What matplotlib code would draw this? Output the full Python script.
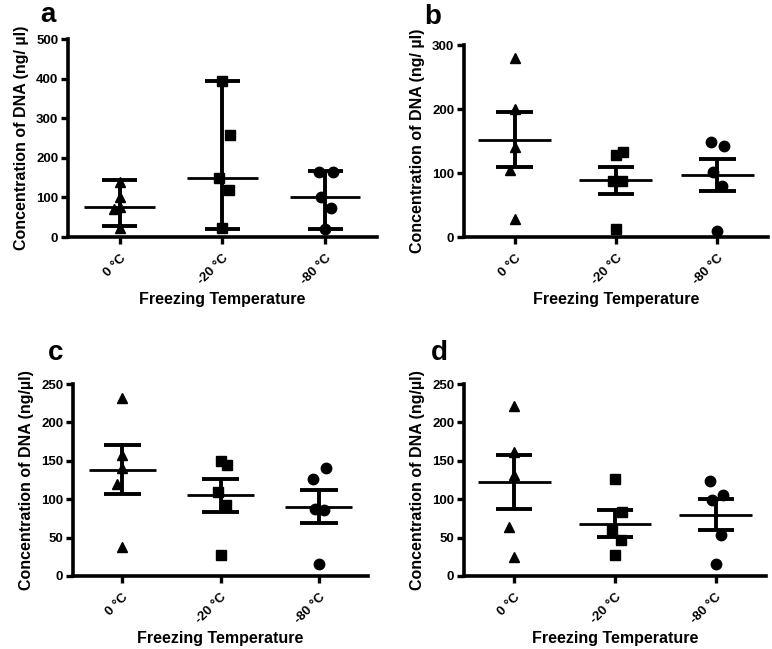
import matplotlib
matplotlib.use('Agg')
import matplotlib.pyplot as plt

plt.rcParams['font.family'] = ['Liberation Sans', 'DejaVu Sans']
plt.rcParams['font.weight'] = 'bold'

categories = ['0 \u00b0C', '-20 \u00b0C', '-80 \u00b0C']
markers = ['^', 's', 'o']

# panel a: individual values, median line and range (min/max)
a_points = [[140, 102, 75, 70, 24],
            [395, 258, 149, 119, 22],
            [165, 164, 101, 73, 20]]
a_center = [77, 149, 102]
a_low = [27, 21, 21]
a_high = [145, 395, 167]

# panel b: values, mean and SEM limits
b_points = [[280, 200, 140, 105, 28],
            [128, 133, 87, 87, 12],
            [148, 143, 102, 80, 10]]
b_center = [152, 89, 97]
b_low = [109, 68, 72]
b_high = [195, 110, 122]

# panel c
c_points = [[232, 158, 141, 120, 38],
            [150, 144, 110, 92, 27],
            [126, 140, 87, 86, 16]]
c_center = [138, 105, 90]
c_low = [107, 83, 69]
c_high = [170, 126, 112]

# panel d
d_points = [[222, 162, 132, 64, 25],
            [126, 83, 60, 47, 27],
            [124, 106, 99, 53, 15]]
d_center = [122, 68, 80]
d_low = [87, 51, 60]
d_high = [157, 86, 100]

# small horizontal spread of the dots, as drawn in the original
jitter = [[0, 0, 0, -0.05, 0],
          [0, 0.07, -0.03, 0.06, 0],
          [-0.06, 0.07, -0.04, 0.05, 0]]

ylabel_a = 'Concentration of DNA (ng/ \u00b5l)'
ylabel_c = 'Concentration of DNA (ng/\u00b5l)'

# letter, axes rect, data, y max, y step, y label, mean half width,
# cap half width, letter position (axes coords)
panels = [
    ('a', [0.0881, 0.6348, 0.4002, 0.3051], a_points, a_center, a_low, a_high,
     500, 100, ylabel_a, 0.34, 0.17, (-0.09, 1.085)),
    ('b', [0.601, 0.6348, 0.3938, 0.2958], b_points, b_center, b_low, b_high,
     300, 100, ylabel_a, 0.36, 0.18, (-0.13, 1.11)),
    ('c', [0.0946, 0.1125, 0.3821, 0.2958], c_points, c_center, c_low, c_high,
     250, 50, ylabel_c, 0.34, 0.19, (-0.085, 1.125)),
    ('d', [0.601, 0.1125, 0.3912, 0.2958], d_points, d_center, d_low, d_high,
     250, 50, ylabel_c, 0.36, 0.18, (-0.11, 1.125)),
]

fig = plt.figure(figsize=(7.72, 6.49), dpi=100)

for (letter, rect, pts, center, low, high, ymax, step, ylabel,
     mw, cw, lpos) in panels:
    ax = fig.add_axes(rect)
    for i in range(3):
        xs = [i + j for j in jitter[i]]
        ax.plot(xs, pts[i], linestyle='none', marker=markers[i], color='black',
                markersize=7.5, clip_on=False, zorder=3)
        ax.plot([i, i], [low[i], high[i]], color='black', lw=2.8,
                solid_capstyle='butt', zorder=2)
        ax.plot([i - cw, i + cw], [low[i], low[i]], color='black', lw=2.8,
                solid_capstyle='butt', zorder=2)
        ax.plot([i - cw, i + cw], [high[i], high[i]], color='black', lw=2.8,
                solid_capstyle='butt', zorder=2)
        ax.plot([i - mw, i + mw], [center[i], center[i]], color='black',
                lw=2.0, solid_capstyle='butt', zorder=2)

    ax.set_xlim(-0.5, 2.5)
    ax.set_ylim(0, ymax)
    ax.set_yticks(range(0, ymax + 1, step))
    ax.set_xticks(range(3))
    ax.set_xticklabels(categories, rotation=45, ha='right',
                       rotation_mode='anchor')
    for side in ['top', 'right']:
        ax.spines[side].set_visible(False)
    for side in ['left', 'bottom']:
        ax.spines[side].set_linewidth(2.6)
    ax.tick_params(axis='both', width=2.4, length=5, labelsize=9.5,
                   direction='out')
    ax.tick_params(axis='y', pad=2)
    ax.tick_params(axis='x', pad=6)
    for lab in ax.get_xticklabels() + ax.get_yticklabels():
        lab.set_fontweight('bold')
    ax.set_ylabel(ylabel, fontsize=11.5, fontweight='bold', labelpad=5)
    ax.set_xlabel('Freezing Temperature', fontsize=11.5, fontweight='bold',
                  labelpad=3)
    ax.text(lpos[0], lpos[1], letter, transform=ax.transAxes, fontsize=20,
            fontweight='bold', va='baseline', ha='left')

fig.savefig('out.png', dpi=100)
